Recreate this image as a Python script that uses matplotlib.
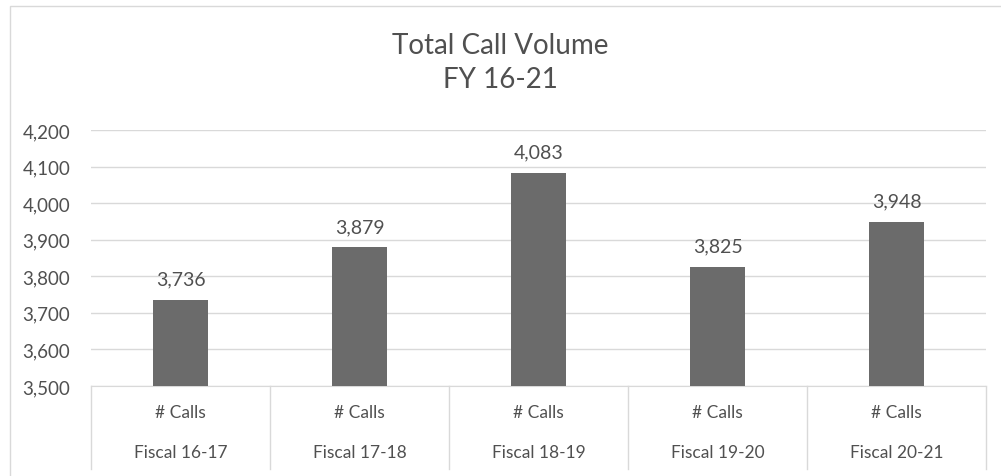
import matplotlib
matplotlib.use("Agg")
import matplotlib.pyplot as plt
from matplotlib.transforms import blended_transform_factory
from matplotlib.lines import Line2D
from matplotlib.patches import Rectangle

categories = ["Fiscal 16-17", "Fiscal 17-18", "Fiscal 18-19", "Fiscal 19-20", "Fiscal 20-21"]
series_name = "# Calls"
values = [3736, 3879, 4083, 3825, 3948]
yticks = [3500, 3600, 3700, 3800, 3900, 4000, 4100, 4200]

plt.rcParams['font.family'] = ['Lato', 'DejaVu Sans']
TEXT = "#505050"
GRID = "#d9d9d9"

fig = plt.figure(figsize=(10.01, 4.77), dpi=100)
W, H = 1001, 477
ax = fig.add_axes([91 / W, 1 - 387 / H, (986 - 91) / W, (387 - 131) / H])

x = list(range(len(categories)))
ax.bar(x, values, width=0.31, color="#6b6b6b", zorder=3)
ax.set_xlim(-0.5, len(categories) - 0.5)
ax.set_ylim(yticks[0], yticks[-1])
ax.set_yticks(yticks)
ax.set_yticklabels([f"{v:,}" for v in yticks], color=TEXT, fontsize=13.5)
ax.tick_params(axis='y', length=0, pad=15)
ax.set_xticks([])
ax.grid(axis='y', color=GRID, linewidth=1, zorder=0)
for s in ["top", "right", "left"]:
    ax.spines[s].set_visible(False)
ax.spines["bottom"].set_color(GRID)

for xi, v in zip(x, values):
    ax.annotate(f"{v:,}", (xi, v), xytext=(0, 15), textcoords="offset points",
                ha="center", va="center", fontsize=14, color=TEXT)

# category table below axis
tr = blended_transform_factory(ax.transData, ax.transAxes)
for b in [i - 0.5 for i in range(len(categories) + 1)]:
    ax.add_line(Line2D([b, b], [0, -0.325], transform=tr, color=GRID, linewidth=1, clip_on=False))
for xi, c in zip(x, categories):
    ax.text(xi, -0.10, series_name, transform=tr, ha="center", va="center", fontsize=12.5, color=TEXT)
    ax.text(xi, -0.258, c, transform=tr, ha="center", va="center", fontsize=12.5, color=TEXT)

fig.text(0.5, 1 - 46 / H, "Total Call Volume", ha="center", va="center", fontsize=20, color=TEXT)
fig.text(0.5, 1 - 80 / H, "FY 16-21", ha="center", va="center", fontsize=20, color=TEXT)

# outer chart border
fig.add_artist(Rectangle((10 / W, -0.01), 1.2, 1 - 7 / H + 0.01, transform=fig.transFigure,
                         fill=False, edgecolor=GRID, linewidth=1))

fig.savefig("out.png", dpi=100, facecolor="white")
